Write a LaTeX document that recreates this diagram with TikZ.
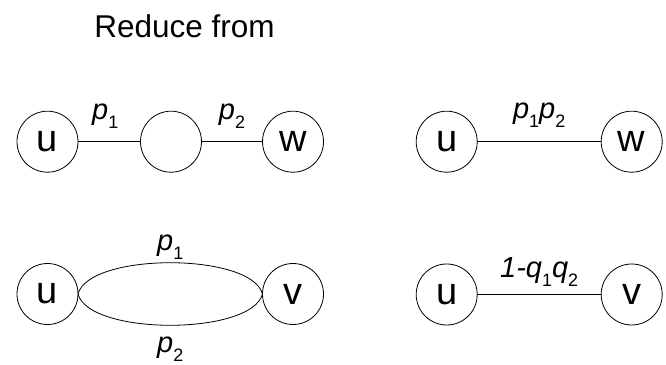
\documentclass[tikz,border=0pt]{standalone}
\usepackage{fontspec}
\setmainfont{Liberation Sans}
\usepackage{tikz}
\usetikzlibrary{positioning}

\newcommand{\idx}[1]{\raisebox{-9pt}{\upshape\fontsize{18}{18}\selectfont #1}}

\begin{document}
\begin{tikzpicture}[x=1pt,y=1pt,on grid,line width=0.8pt,
       vert/.style={circle,draw,minimum size=61pt,inner sep=0pt,outer sep=0pt,font=\fontsize{38}{40}\selectfont},
       elab/.style={font=\fontsize{29}{32}\selectfont\itshape,anchor=base,inner sep=0pt}]
       \useasboundingbox (0,0) rectangle (666,364);
       \node[anchor=base west,inner sep=0pt,font=\fontsize{31.5}{36}\selectfont] (title) at (94,326.3) {Reduce from};

       % series: before and after
       \node[vert] (u1) at (47.5,222.3) {u};
       \node[vert] (m1) [right=123.5pt of u1] {};
       \node[vert] (w1) [right=122pt of m1] {w};
       \node[vert] (u2) at (446.7,222.3) {u};
       \node[vert] (w2) [right=185pt of u2] {w};

       % parallel: before and after
       \node[vert] (u3) at (47.5,70) {u};
       \node[vert] (v3) [right=245.5pt of u3] {v};
       \node[vert] (u4) at (446.7,69.5) {u};
       \node[vert] (v4) [right=185pt of u4] {v};

       \path
       (u1) edge node[elab,yshift=21.7pt,xshift=-4pt] {\textit{p}\idx{1}} (m1)
       (m1) edge node[elab,yshift=21.7pt] {\textit{p}\idx{2}} (w1)
       (u2) edge node[elab,yshift=22.7pt] {\textit{p}\idx{1}\textit{p}\idx{2}} (w2)
       (u3.east) edge[out=75,in=105,looseness=0.6] node[elab,yshift=12.7pt] {\textit{p}\idx{1}} (v3.west)
       (u3.east) edge[out=-75,in=-105,looseness=0.6] node[elab,yshift=-27.6pt] {\textit{p}\idx{2}} (v3.west)
       (u4) edge node[elab,yshift=17pt] {\textit{1-q}\idx{1}\textit{q}\idx{2}} (v4);
\end{tikzpicture}
\end{document}
